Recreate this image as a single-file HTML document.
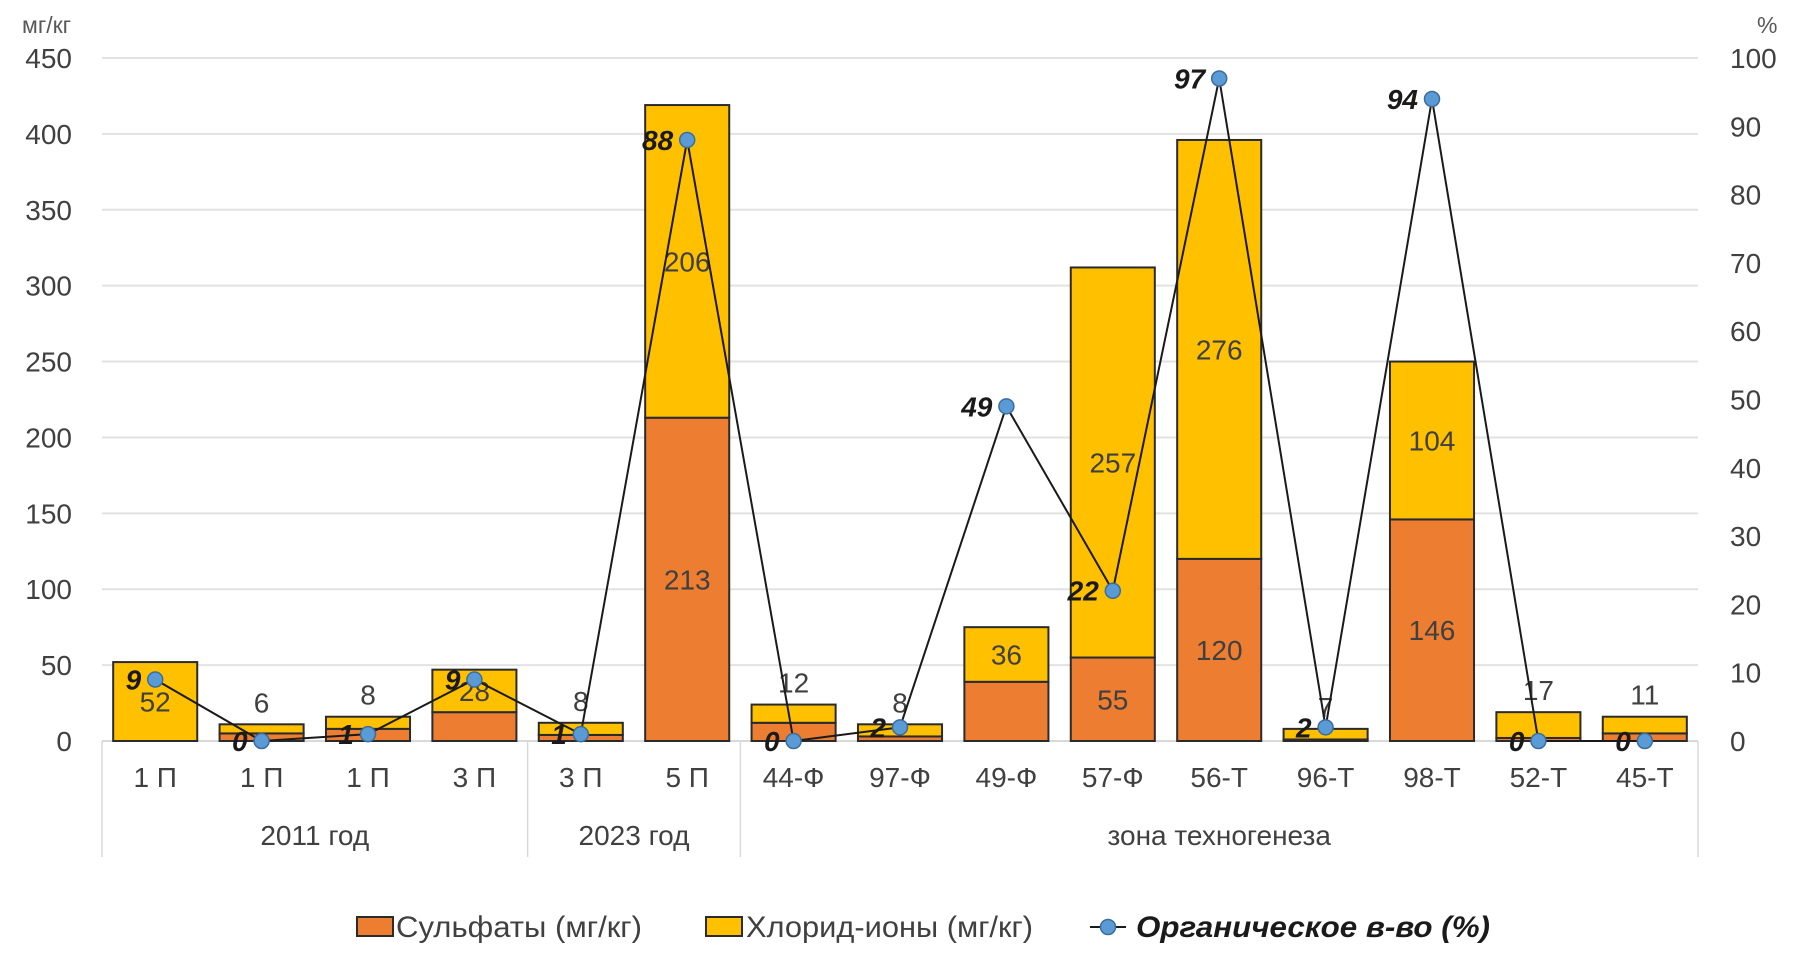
<!DOCTYPE html>
<html><head><meta charset="utf-8">
<style>
html,body{margin:0;padding:0;background:#fff;}
svg{display:block;font-family:"Liberation Sans",sans-serif;}
</style></head>
<body>
<svg id="chart" width="1811" height="973" viewBox="0 0 1811 973" xmlns="http://www.w3.org/2000/svg"></svg>
<script>
const categories=["1 П","1 П","1 П","3 П","3 П","5 П","44-Ф","97-Ф","49-Ф","57-Ф","56-Т","96-Т","98-Т","52-Т","45-Т"];
const sulfates=[0,5,8,19,4,213,12,3,39,55,120,1,146,2,5];
const chlorides=[52,6,8,28,8,206,12,8,36,257,276,7,104,17,11];
const organic=[9,0,1,9,1,88,0,2,49,22,97,2,94,0,0];
const groups=["2011 год","2023 год","зона техногенеза"];
const groupSizes=[4,2,9];
const leftTicks=[0,50,100,150,200,250,300,350,400,450];
const rightTicks=[0,10,20,30,40,50,60,70,80,90,100];

const NS="http://www.w3.org/2000/svg";
const svg=document.getElementById('chart');
const X0=102,X1=1698,Y0=741,Y1=58;
const band=(X1-X0)/categories.length;
const bw=band*0.79;
const FS=28;
function yL(v){return Y0-(v/450)*(Y0-Y1);}
function yR(v){return Y0-(v/100)*(Y0-Y1);}
function xc(i){return X0+band*(i+0.5);}
function el(tag,attrs,parent){const e=document.createElementNS(NS,tag);for(const k in attrs)e.setAttribute(k,attrs[k]);(parent||svg).appendChild(e);return e;}
function txt(s,attrs,parent){const e=el('text',attrs,parent);e.textContent=s;return e;}

leftTicks.forEach(v=>{
  if(v>0){const g=el('line',{x1:X0,x2:X1,y1:yL(v),y2:yL(v),stroke:'#e2e2e2','stroke-width':2});
  
  }
  const t=txt(String(v),{x:72,y:yL(v)+10,'text-anchor':'end','font-size':FS,fill:'#404040'});
  
  
});
rightTicks.forEach(v=>{
  const t=txt(String(v),{x:1730,y:yR(v)+10,'text-anchor':'start','font-size':FS,fill:'#404040'});
  
  
});
let u=txt("мг/кг",{x:22,y:33,'font-size':23,fill:'#595959'});

u=txt("%",{x:1757,y:33,'font-size':23,fill:'#595959'});


el('line',{x1:X0,x2:X1,y1:Y0,y2:Y0,stroke:'#d9d9d9','stroke-width':2});

categories.forEach((c,i)=>{
  const t=txt(c,{x:xc(i),y:787,'text-anchor':'middle','font-size':FS,fill:'#404040'});
  
  
});
let start=0;
const sepXs=[X0];
groupSizes.forEach((n,gi)=>{
  const xs=X0+band*start, xe=X0+band*(start+n);
  sepXs.push(xe);
  const t=txt(groups[gi],{x:(xs+xe)/2,y:845,'text-anchor':'middle','font-size':FS,fill:'#404040'});
  
  
  start+=n;
});
sepXs.forEach(x=>{const l=el('line',{x1:x,x2:x,y1:Y0,y2:857,stroke:'#d9d9d9','stroke-width':1.5});
  });

categories.forEach((c,i)=>{
  const x=xc(i)-bw/2;
  const s=sulfates[i], h=chlorides[i];
  if(s>0){
    const r=el('rect',{x:x,y:yL(s),width:bw,height:Y0-yL(s),fill:'#ED7D31',stroke:'#2b2b2b','stroke-width':2});
    
    
  }
  const r2=el('rect',{x:x,y:yL(s+h),width:bw,height:yL(s)-yL(s+h),fill:'#FFC000',stroke:'#2b2b2b','stroke-width':2});
  
  
  if(s>=50){
    const t=txt(String(s),{x:xc(i),y:(yL(s)+Y0)/2+10,'text-anchor':'middle','font-size':FS,fill:'#404040'});
    
  }
  let ty = h>=20 ? (yL(s)+yL(s+h))/2+10 : yL(s+h)-12;
  const t2=txt(String(h),{x:xc(i),y:ty,'text-anchor':'middle','font-size':FS,fill:'#404040'});
  
});

const pts=organic.map((v,i)=>xc(i)+','+yR(v)).join(' ');
const pl=el('polyline',{points:pts,fill:'none',stroke:'#1a1a1a','stroke-width':2});

organic.forEach((v,i)=>{
  const m=el('circle',{cx:xc(i),cy:yR(v),r:7.5,fill:'#5B9BD5',stroke:'#3a6d9e','stroke-width':1.5});
  
  const t=txt(String(v),{x:xc(i)-14,y:yR(v)+10,'text-anchor':'end','font-size':FS,'font-weight':'bold','font-style':'italic',fill:'#1a1a1a'});
  
});

const lg=el('g',{});

let r=el('rect',{x:357,y:917,width:36,height:19,fill:'#ED7D31',stroke:'#2b2b2b','stroke-width':2},lg);

let t=txt("Сульфаты (мг/кг)",{x:396,y:937,'font-size':30,fill:'#404040',textLength:246,lengthAdjust:'spacingAndGlyphs'},lg);

r=el('rect',{x:706,y:917,width:36,height:19,fill:'#FFC000',stroke:'#2b2b2b','stroke-width':2},lg);

t=txt("Хлорид-ионы  (мг/кг)",{x:746,y:937,'font-size':30,fill:'#404040',textLength:287,lengthAdjust:'spacingAndGlyphs'},lg);

el('line',{x1:1090,x2:1126,y1:927,y2:927,stroke:'#1a1a1a','stroke-width':2},lg);
let c=el('circle',{cx:1108,cy:927,r:7.5,fill:'#5B9BD5',stroke:'#3a6d9e','stroke-width':1.5},lg);

t=txt("Органическое в-во (%)",{x:1136,y:937,'font-size':30,'font-weight':'bold','font-style':'italic',fill:'#1a1a1a',textLength:354,lengthAdjust:'spacingAndGlyphs'},lg);

</script>
</body></html>
